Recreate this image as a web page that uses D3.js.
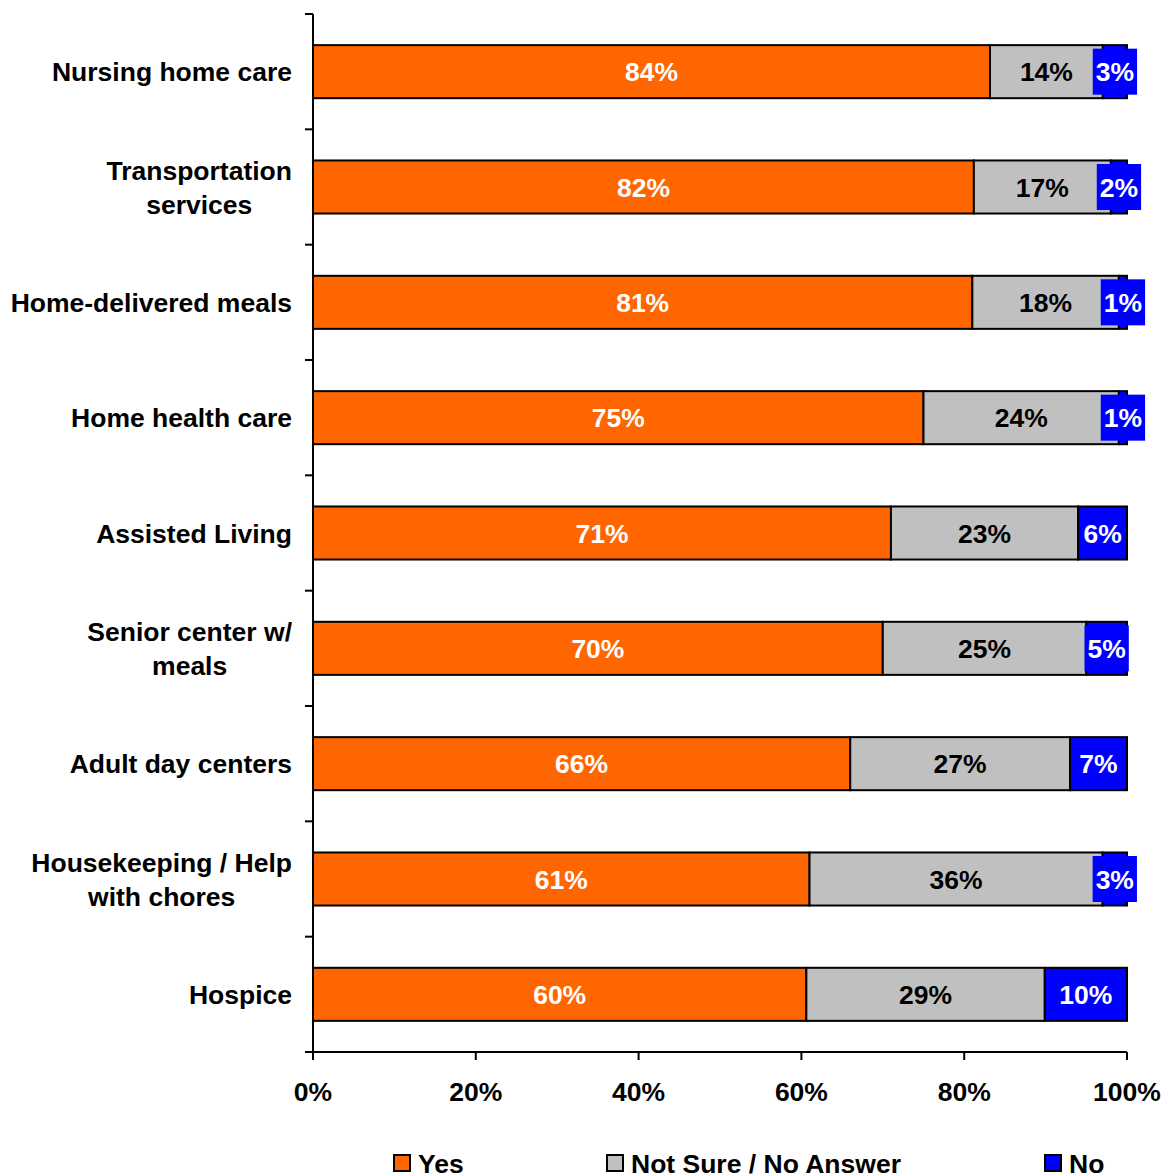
<!DOCTYPE html>
<html><head><meta charset="utf-8">
<script src="https://cdn.jsdelivr.net/npm/d3@7"></script>
<style>body{margin:0;background:#fff}svg{display:block}text{font-family:"Liberation Sans",Arial,sans-serif;font-weight:bold}</style>
</head><body><svg id="c" width="1163" height="1175"></svg>
<script>
const categories = [["Nursing home care"],["Transportation","services"],["Home-delivered meals"],["Home health care"],["Assisted Living"],["Senior center w/","meals"],["Adult day centers"],["Housekeeping / Help","with chores"],["Hospice"]];
const yesVals = [84,82,81,75,71,70,66,61,60];
const notSureVals = [14,17,18,24,23,25,27,36,29];
const noVals = [3,2,1,1,6,5,7,3,10];
const seriesNames = ["Yes","Not Sure / No Answer","No"];
const seriesColors = ["#FF6600","#C0C0C0","#0000FF"];
const tickVals = [0,20,40,60,80,100];
const FS = 26.5;

const svg = d3.select("#c");
const x = d3.scaleLinear().domain([0,100]).range([313,1127]);
const y = d3.scaleBand().domain(d3.range(categories.length)).range([14,1052]).paddingInner(0.54).paddingOuter(0.27);
const band = d3.scaleBand().domain(d3.range(categories.length)).range([14,1052]);

const rows = categories.map((c,i)=>{
  const vals=[yesVals[i],notSureVals[i],noVals[i]];
  const tot=d3.sum(vals);
  let acc=0;
  return vals.map((v,k)=>{const s={i,k,v,x0:acc/tot*100,x1:(acc+v)/tot*100};acc+=v;return s;});
});

const g = svg.append("g");
rows.forEach(r=>{
  r.forEach(s=>{
    g.append("rect").attr("x",x(s.x0)).attr("y",y(s.i)).attr("width",x(s.x1)-x(s.x0)).attr("height",y.bandwidth())
      .attr("fill",seriesColors[s.k]).attr("stroke","#000").attr("stroke-width",2);
  });
});
rows.forEach(r=>{
  r.forEach(s=>{
    const cx=(x(s.x0)+x(s.x1))/2, cy=y(s.i)+y.bandwidth()/2;
    const lbl=s.v+"%";
    if(s.k===2){
      const t=g.append("text").attr("x",cx).attr("y",cy).attr("dy","0.36em").attr("text-anchor","middle")
        .attr("font-size",FS).attr("fill","#fff").text(lbl);
      const bb=t.node().getBBox();
      g.insert("rect",()=>t.node()).attr("x",bb.x-3).attr("y",cy-23).attr("width",bb.width+6).attr("height",46).attr("fill","#0000FF");
    } else {
      g.append("text").attr("x",cx).attr("y",cy).attr("dy","0.36em").attr("text-anchor","middle")
        .attr("font-size",FS).attr("fill",s.k===0?"#fff":"#000").text(lbl);
    }
  });
});

const ax = svg.append("g").attr("stroke","#000").attr("stroke-width",2);
ax.append("line").attr("x1",313).attr("x2",313).attr("y1",14).attr("y2",1060);
d3.range(categories.length).forEach(i=>{
  ax.append("line").attr("x1",305).attr("x2",313).attr("y1",band(i)).attr("y2",band(i));
});
ax.append("line").attr("x1",305).attr("x2",1127).attr("y1",1052).attr("y2",1052);
tickVals.forEach(t=>{
  ax.append("line").attr("x1",x(t)).attr("x2",x(t)).attr("y1",1052).attr("y2",1060);
});
tickVals.forEach(t=>{
  svg.append("text").attr("x",x(t)).attr("y",1101).attr("text-anchor","middle").attr("font-size",FS).attr("fill","#000").text(t+"%");
});
categories.forEach((c,i)=>{
  const cy=band(i)+band.bandwidth()/2;
  const n=c.length;
  const ts=c.map((line,j)=>svg.append("text").attr("y",cy+(j-(n-1)/2)*34).attr("dy","0.36em").attr("font-size",FS).attr("fill","#000").text(line));
  if(n===1){ts[0].attr("x",292).attr("text-anchor","end");}
  else {
    const w=d3.max(ts,t=>t.node().getComputedTextLength());
    ts.forEach(t=>t.attr("x",292-w/2).attr("text-anchor","middle"));
  }
});

const legX=[394,607,1045];
seriesNames.forEach((nm,k)=>{
  svg.append("rect").attr("x",legX[k]).attr("y",1155).attr("width",16).attr("height",16).attr("fill",seriesColors[k]).attr("stroke","#000").attr("stroke-width",2);
  svg.append("text").attr("x",legX[k]+24).attr("y",1173).attr("font-size",FS).attr("fill","#000").text(nm);
});
</script></body></html>
